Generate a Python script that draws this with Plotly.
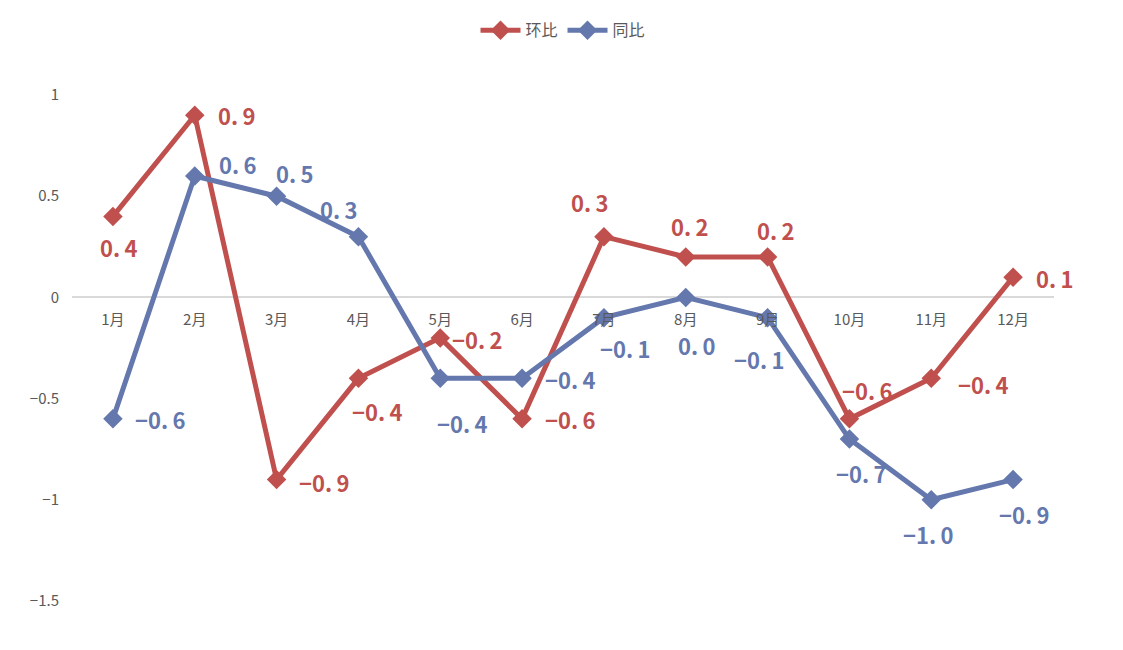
import plotly.graph_objects as go

months = ['1月', '2月', '3月', '4月', '5月', '6月', '7月', '8月', '9月', '10月', '11月', '12月']
huanbi = [0.4, 0.9, -0.9, -0.4, -0.2, -0.6, 0.3, 0.2, 0.2, -0.6, -0.4, 0.1]
tongbi = [-0.6, 0.6, 0.5, 0.3, -0.4, -0.4, -0.1, 0.0, -0.1, -0.7, -1.0, -0.9]
y_ticks = [1, 0.5, 0, -0.5, -1, -1.5]

RED = '#C0504D'
BLUE = '#6478AE'

# label offsets (px) from each marker
off_red = [(6, -31), (42, 0), (48, -2), (19, -33), (37, -1), (48, 0),
           (-14, 35), (4, 31), (8, 27), (18, 29), (52, -6), (42, -1)]
off_blue = [(48, 0), (43, 12), (18, 23), (-19, 28), (22, -45), (48, -1),
            (22, -30), (11, -48), (-8, -41), (12, -34), (-3, -34), (11, -34)]


def fmt(v):
    s = '%.1f' % abs(v)
    s = s.replace('.', '.\u2009')
    return ('−' + s) if v < 0 else s


fig = go.Figure()
for name, vals, col, offs in [('环比', huanbi, RED, off_red), ('同比', tongbi, BLUE, off_blue)]:
    fig.add_trace(go.Scatter(
        x=months, y=vals, name=name,
        mode='lines+markers',
        line=dict(color=col, width=5),
        marker=dict(symbol='diamond', size=15, color=col),
        cliponaxis=False,
    ))
    for m, v, (dx, dy) in zip(months, vals, offs):
        fig.add_annotation(
            x=m, y=v, text=fmt(v), showarrow=False,
            xshift=dx, yshift=dy,
            font=dict(color=col, size=22, family='Noto Sans CJK JP', weight='bold'),
        )

ymin, ymax = -1.5, 1
fig.update_layout(
    width=1123, height=650,
    plot_bgcolor='white', paper_bgcolor='white',
    margin=dict(l=64, r=77, t=87, b=57, autoexpand=False),
    font=dict(family='Noto Sans CJK JP', color='#595959', size=15),
    legend=dict(orientation='h', x=0.5, xanchor='center', y=1.128, yanchor='middle',
                font=dict(size=16), itemwidth=40),
    xaxis=dict(range=[-0.5, 11.5], anchor='free', position=(0 - ymin) / (ymax - ymin),
               showline=False, showgrid=False, ticks='', automargin=False,
               tickfont=dict(size=15), ticklabelstandoff=12),
    yaxis=dict(range=[ymin, ymax], tickvals=y_ticks, showgrid=False, automargin=False,
               zeroline=True, zerolinecolor='#D9D9D9', zerolinewidth=2,
               ticks='', tickfont=dict(size=15), ticklabelstandoff=12),
)

fig.write_html('out.html')
